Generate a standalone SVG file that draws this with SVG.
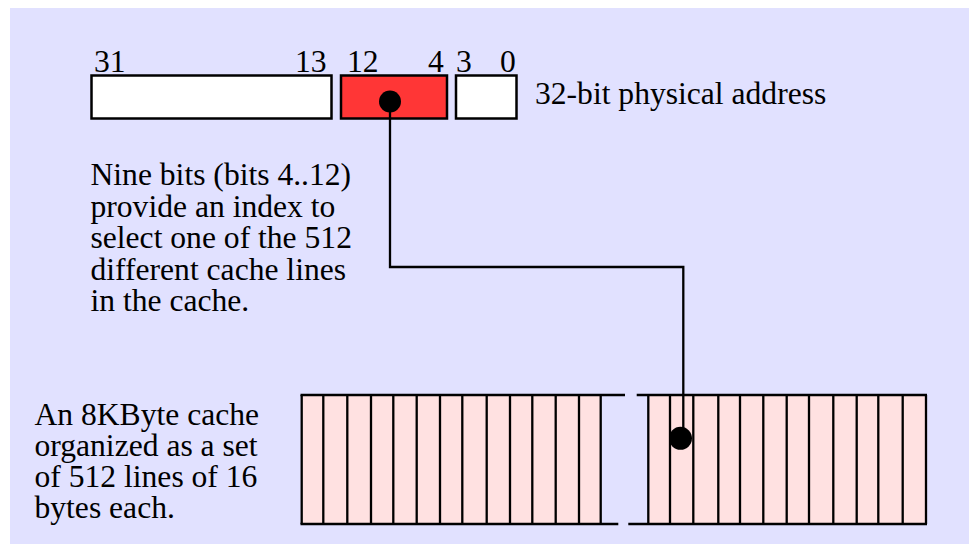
<svg xmlns="http://www.w3.org/2000/svg" width="969" height="544" viewBox="0 0 969 544">
<style>
text{font-size:31.6px;fill:#000}
.box{stroke:#000;stroke-width:2.5}
.ln{stroke:#000;stroke-width:2.3;fill:none}
.dot{fill:#000}
</style>
<rect x="10" y="8" width="959" height="536" fill="#E1E1FF"/>
<g font-family="'Liberation Serif', 'Times New Roman', Times, serif">
<g id="address">
<rect class="box" x="91.5" y="75.5" width="240" height="43" fill="#FFFFFF"/>
<rect class="box" x="341" y="75.5" width="106" height="43" fill="#FF3636"/>
<rect class="box" x="456" y="75.5" width="60.5" height="43" fill="#FFFFFF"/>
<text x="94" y="72">31</text>
<text x="295" y="72">13</text>
<text x="347" y="72">12</text>
<text x="428" y="72">4</text>
<text x="456" y="72">3</text>
<text x="500" y="72">0</text>
<text x="535" y="104">32-bit physical address</text>
</g>
<g id="index-note">
<text x="90.5" y="185">Nine bits (bits 4..12)</text>
<text x="90.5" y="216.5">provide an index to</text>
<text x="90.5" y="248">select one of the 512</text>
<text x="90.5" y="279.5">different cache lines</text>
<text x="90.5" y="311">in the cache.</text>
</g>
<g id="cache-note">
<text x="34.5" y="425">An 8KByte cache</text>
<text x="34.5" y="456">organized as a set</text>
<text x="34.5" y="487">of 512 lines of 16</text>
<text x="34.5" y="518">bytes each.</text>
</g>
</g>
<g id="cache">
<rect x="301.7" y="395" width="299" height="129" fill="#FFE1E1"/>
<rect x="648.3" y="395" width="277.7" height="129" fill="#FFE1E1"/>
<path class="ln" d="M300.5 395H625M636.7 395H927M300.5 524H618.3M628.3 524H927"/>
<path class="ln" d="M301.7 395V524M323.3 395V524M347.3 395V524M371 395V524M393.3 395V524M416.7 395V524M440 395V524M462.3 395V524M486.7 395V524M510 395V524M532.3 395V524M555.7 395V524M579 395V524M600.7 395V524"/>
<path class="ln" d="M648.3 395V524M670 395V524M693.3 395V524M718.3 395V524M740 395V524M763.3 395V524M786.7 395V524M809 395V524M833.3 395V524M856.7 395V524M878.3 395V524M902.7 395V524M926 395V524"/>
</g>
<g id="connectors">
<path class="ln" d="M390 101V267H683.3V438"/>
<circle class="dot" cx="390" cy="101.5" r="11"/>
<circle class="dot" cx="680.5" cy="438.3" r="11.5"/>
</g>
</svg>
